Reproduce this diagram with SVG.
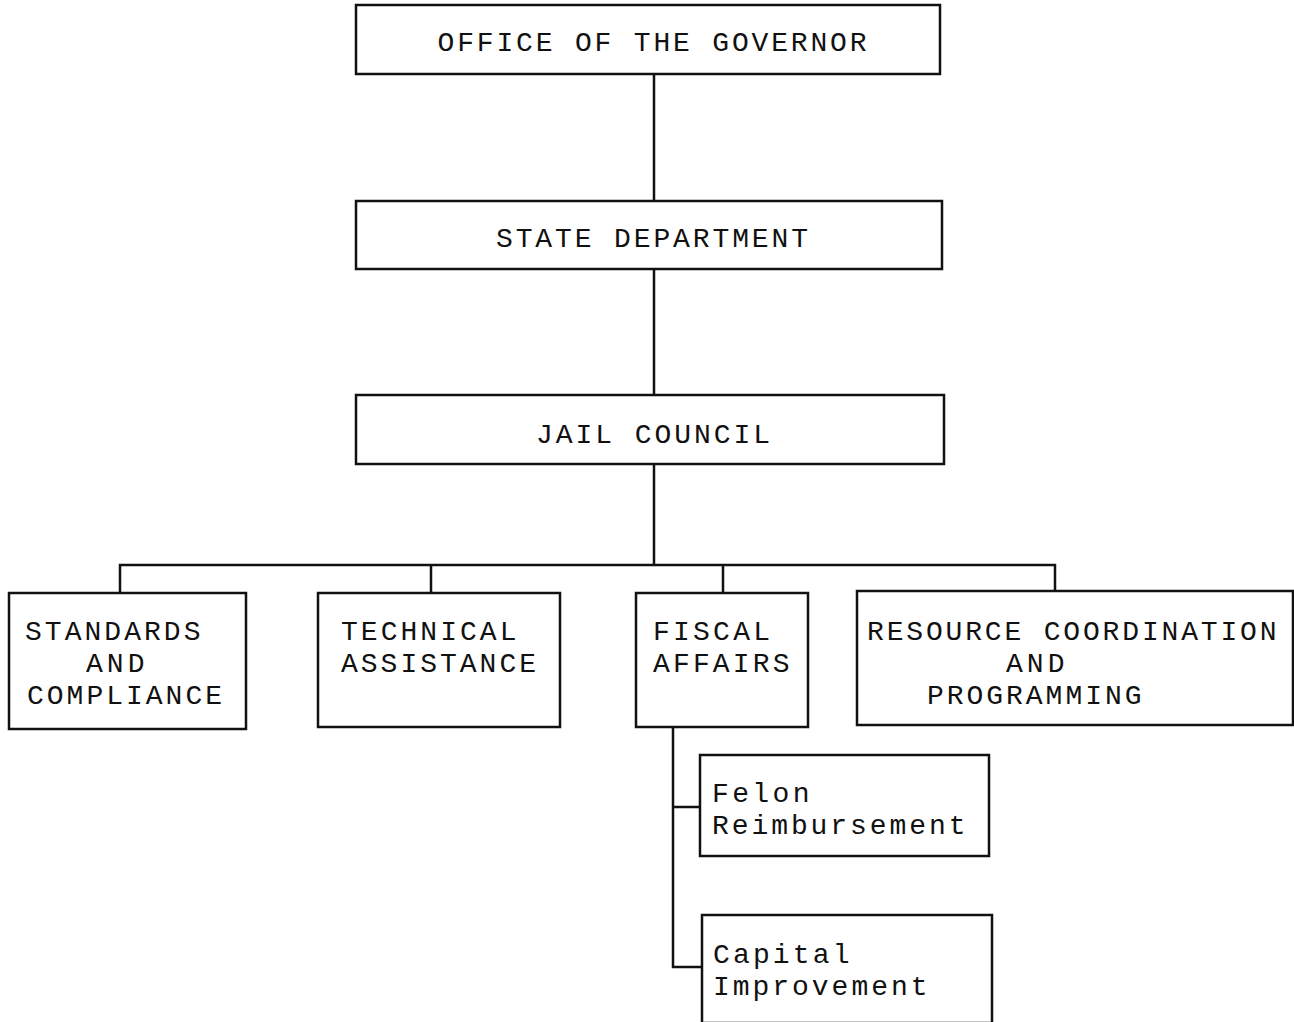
<svg xmlns="http://www.w3.org/2000/svg" width="1294" height="1022" viewBox="0 0 1294 1022">
<style>
.box{fill:#fff;stroke:#111;stroke-width:2.5}
.t{font-family:"Liberation Mono","DejaVu Sans Mono",monospace;font-size:28px;fill:#111}
.c{font-family:"Liberation Mono","DejaVu Sans Mono",monospace;font-size:28px;fill:#111;text-anchor:middle}
#connectors path{fill:none;stroke:#111;stroke-width:2.5}
</style>
<rect width="1294" height="1022" fill="#fff"/>
<g id="connectors">
<path d="M654 74V201M654 269V395M654 464V565"/>
<path d="M120 593V565H1055V591M431 565V593M723 565V593"/>
<path d="M673 727V967H701M673 807H700"/>
</g>
<g id="governor"><rect class="box" x="356" y="5" width="584" height="69"/><text class="c" x="652" y="51" textLength="429" lengthAdjust="spacing">OFFICE OF THE GOVERNOR</text></g>
<g id="state"><rect class="box" x="356" y="201" width="586" height="68"/><text class="c" x="652" y="247" textLength="312" lengthAdjust="spacing">STATE DEPARTMENT</text></g>
<g id="jail"><rect class="box" x="356" y="395" width="588" height="69"/><text class="c" x="653" y="443" textLength="234" lengthAdjust="spacing">JAIL COUNCIL</text></g>
<g id="standards"><rect class="box" x="9" y="593" width="237" height="136"/><text class="t" x="25" y="640" textLength="175.5" lengthAdjust="spacing">STANDARDS</text><text class="t" x="86" y="672" textLength="58.5" lengthAdjust="spacing">AND</text><text class="t" x="27" y="704" textLength="195" lengthAdjust="spacing">COMPLIANCE</text></g>
<g id="technical"><rect class="box" x="318" y="593" width="242" height="134"/><text class="t" x="341" y="640" textLength="175.5" lengthAdjust="spacing">TECHNICAL</text><text class="t" x="341" y="672" textLength="195" lengthAdjust="spacing">ASSISTANCE</text></g>
<g id="fiscal"><rect class="box" x="636" y="593" width="172" height="134"/><text class="t" x="653" y="640" textLength="117" lengthAdjust="spacing">FISCAL</text><text class="t" x="653" y="672" textLength="136.5" lengthAdjust="spacing">AFFAIRS</text></g>
<g id="resource"><rect class="box" x="857" y="591" width="436" height="134"/><text class="t" x="867" y="640" textLength="409.5" lengthAdjust="spacing">RESOURCE COORDINATION</text><text class="t" x="1006" y="672" textLength="58.5" lengthAdjust="spacing">AND</text><text class="t" x="927" y="704" textLength="214.5" lengthAdjust="spacing">PROGRAMMING</text></g>
<g id="felon"><rect class="box" x="700" y="755" width="289" height="101"/><text class="t" x="712" y="802" textLength="97.5" lengthAdjust="spacing">Felon</text><text class="t" x="712" y="834" textLength="253.5" lengthAdjust="spacing">Reimbursement</text></g>
<g id="capital"><rect class="box" x="702" y="915" width="290" height="108"/><text class="t" x="713" y="963" textLength="136.5" lengthAdjust="spacing">Capital</text><text class="t" x="713" y="995" textLength="214.5" lengthAdjust="spacing">Improvement</text></g>
</svg>
